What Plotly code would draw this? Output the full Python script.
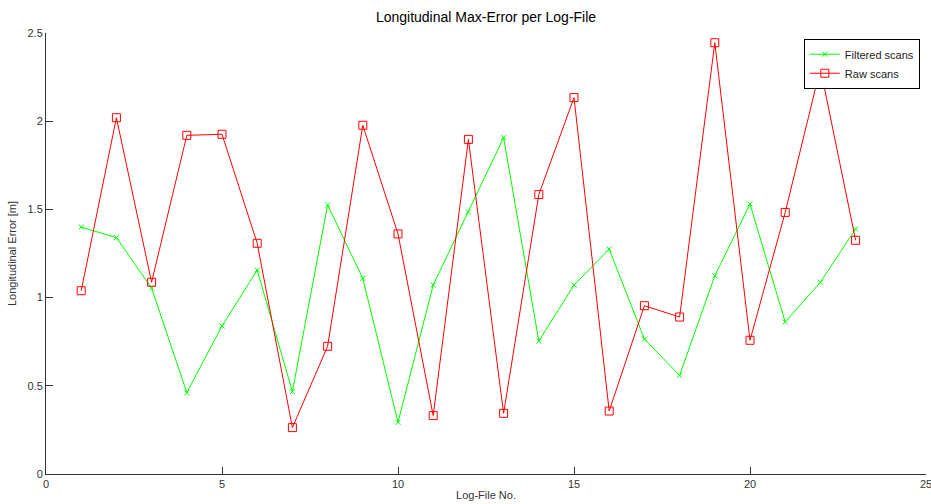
import plotly.graph_objects as go

log_file = list(range(1, 24))
filtered = [1.40, 1.34, 1.054, 0.461, 0.839, 1.156, 0.467, 1.525, 1.109, 0.293,
            1.071, 1.485, 1.907, 0.754, 1.071, 1.275, 0.765, 0.559, 1.124, 1.53,
            0.862, 1.087, 1.389]
raw = [1.039, 2.020, 1.087, 1.920, 1.926, 1.308, 0.263, 0.724, 1.977, 1.361,
       0.331, 1.897, 0.344, 1.584, 2.134, 0.357, 0.954, 0.890, 2.445, 0.758,
       1.483, 2.30, 1.325]
x_ticks = [0, 5, 10, 15, 20, 25]
y_ticks = [0, 0.5, 1, 1.5, 2, 2.5]

font = "Liberation Sans, Arial, sans-serif"

fig = go.Figure()
fig.add_trace(go.Scatter(
    x=log_file, y=filtered, mode="lines+markers", name="Filtered scans",
    line=dict(color="#00ff00", width=1),
    marker=dict(symbol="x-thin", size=5, line=dict(color="#00ff00", width=1), color="#00ff00"),
))
fig.add_trace(go.Scatter(
    x=log_file, y=raw, mode="lines+markers", name="Raw scans",
    line=dict(color="#ff0000", width=1),
    marker=dict(symbol="square-open", size=8, color="#ff0000", line=dict(width=1)),
))

fig.update_layout(
    width=931, height=504,
    margin=dict(l=46, r=5, t=33, b=30),
    paper_bgcolor="white", plot_bgcolor="white",
    font=dict(family=font, size=11, color="#333333"),
    title=dict(text="Longitudinal Max-Error per Log-File", x=(46 + 926) / 2 / 931, xanchor="center",
               y=1 - 17 / 504, yanchor="middle",
               font=dict(family=font, size=14, color="black")),
    showlegend=True,
    legend=dict(x=0.993, y=0.987, xanchor="right", yanchor="top",
                bgcolor="white", bordercolor="black", borderwidth=1,
                font=dict(family=font, size=11, color="#222222"),
                tracegroupgap=0, itemwidth=30),
    xaxis=dict(range=[0, 25.0001], tickvals=x_ticks, ticks="inside", ticklen=7,
               ticklabeloverflow="allow", automargin=False,
               tickcolor="#333333", showline=True, linecolor="#333333", linewidth=1,
               showgrid=False, zeroline=False, mirror=False,
               title=dict(text="Log-File No.", standoff=2, font=dict(size=11, color="#333333"))),
    yaxis=dict(range=[0, 2.5001], tickvals=y_ticks, ticktext=["0", "0.5", "1", "1.5", "2", "2.5"],
               ticks="inside", ticklen=7, ticklabeloverflow="allow", automargin=False,
               tickcolor="#333333", showline=True, linecolor="#333333", linewidth=1,
               showgrid=False, zeroline=False, mirror=False,
               title=dict(text="Longitudinal Error [m]", standoff=8, font=dict(size=11, color="#333333"))),
)

fig.write_html("out.html")
